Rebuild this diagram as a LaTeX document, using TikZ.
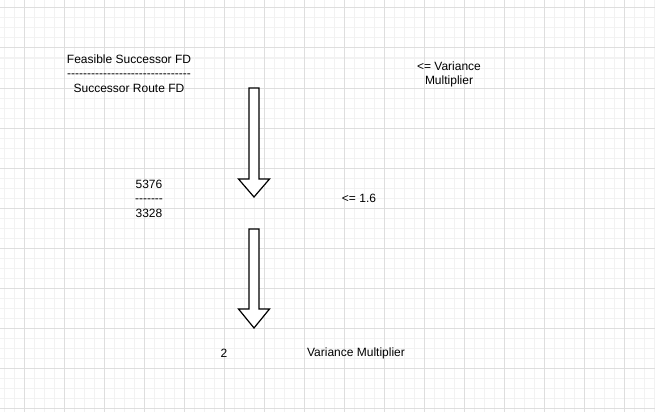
\documentclass[tikz,border=0pt]{standalone}
\usepackage{fontspec}
\setmainfont{Liberation Sans}[Ligatures=TeXOff]
\begin{document}
\begin{tikzpicture}[x=1pt,y=-1pt,
  minorgrid/.style={draw={rgb,255:red,242;green,242;blue,242},line width=1pt},
  majorgrid/.style={draw={rgb,255:red,222;green,222;blue,222},line width=1pt},
  lbl/.style={inner sep=0pt,font=\fontsize{12}{14}\selectfont,text=black,align=center},
  blockarrow/.style={draw=black,fill=white,line width=1.2pt,line join=miter}]
\useasboundingbox (0,0) rectangle (655,412);
\fill[white] (0,0) rectangle (655,412);
% minor grid
\foreach \x in {4.5,14.5,...,654.5} \draw[minorgrid] (\x,0) -- (\x,412);
\foreach \y in {8,18,...,410} \draw[minorgrid] (0,\y) -- (655,\y);
% major grid
\foreach \x in {24.5,64.5,...,654.5} \draw[majorgrid] (\x,0) -- (\x,412);
\foreach \y in {8,48,...,410} \draw[majorgrid] (0,\y) -- (655,\y);
% block arrows
\draw[blockarrow] (249,88) -- (259,88) -- (259,179) -- (269.5,179) -- (254,197) -- (238.5,179) -- (249,179) -- cycle;
\draw[blockarrow] (249,229) -- (259,229) -- (259,309) -- (269.5,309) -- (254,328) -- (238.5,309) -- (249,309) -- cycle;
% texts
\node[lbl] (fs) at (129,59) {Feasible Successor FD};
\node[lbl] (bar1) at (129,75.5) {-------------------------------};
\node[lbl] (sr) at (129,88) {Successor Route FD};
\node[lbl] (num) at (149,184) {5376};
\node[lbl] (bar2) at (149,201) {-------};
\node[lbl] (den) at (149,213) {3328};
\node[lbl] (vm1) at (449,66) {<= Variance};
\node[lbl] (vm2) at (449,81) {Multiplier};
\node[lbl] (lim) at (359,198) {<= 1.6};
\node[lbl] (two) at (224,353) {2};
\node[lbl] (vm) at (356,353) {Variance Multiplier};
\end{tikzpicture}
\end{document}
